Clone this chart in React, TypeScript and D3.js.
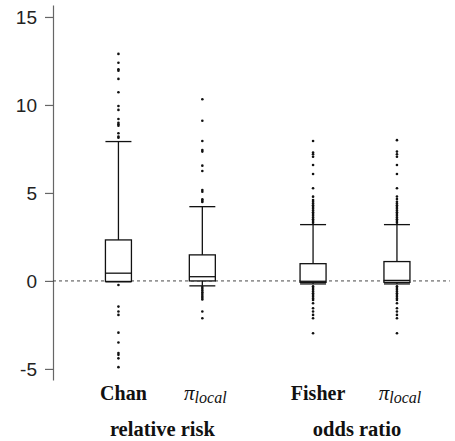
import React, { useEffect, useRef } from "react";
import * as d3 from "d3";

// box summaries, one per column
const categories = ["Chan", "pi", "Fisher", "pi"];
const positions = [1, 2, 3.32, 4.32];
const groups = ["relative risk", "odds ratio"];
const groupPositions = [1.5, 3.82];

const whiskerLow = [-0.05, -0.28, -0.17, -0.17];
const q1 = [-0.03, 0.0, -0.08, -0.08];
const medians = [0.44, 0.24, -0.02, 0.03];
const q3 = [2.33, 1.48, 0.98, 1.1];
const whiskerHigh = [7.92, 4.22, 3.2, 3.2];

const outliersChan = [
  12.9, 12.4, 12.03, 11.95, 11.48, 10.72, 9.94, 9.72, 9.2, 8.99, 8.9, 8.82, 8.39, 8.2, 8.14,
  -0.23, -1.46, -1.74, -1.93, -2.94, -3.5, -4.1, -4.2, -4.4, -4.9,
];
const outliersPiRR = [
  10.32, 9.1, 7.95, 7.44, 7.35, 6.55, 6.25, 5.17, 5.07, 4.64, 4.56, 4.49,
  -0.35, -0.45, -0.55, -0.65, -0.75, -0.85, -0.95, -1.05, -1.74, -2.12,
];
const outliersFisher = [
  7.95, 7.3, 7.2, 7.06, 6.59, 6.08, 5.27, 4.79, 4.6, 4.5, 4.4, 4.3, 4.2, 4.1, 4.0, 3.9, 3.8,
  3.7, 3.6, 3.5, 3.4, 3.3,
  -0.3, -0.4, -0.5, -0.6, -0.7, -0.8, -0.9, -1.0, -1.08, -1.27, -1.55, -1.74, -1.93, -2.12, -2.97,
];
const outliersPiOR = [
  8.0, 7.35, 7.2, 7.06, 6.59, 6.08, 5.27, 4.8, 4.65, 4.5, 4.4, 4.3, 4.2, 4.1, 4.0, 3.9, 3.8,
  3.7, 3.6, 3.5, 3.4, 3.3,
  -0.3, -0.4, -0.5, -0.6, -0.7, -0.8, -0.9, -1.0, -1.08, -1.27, -1.55, -1.74, -1.93, -2.12, -2.97,
];
const outliers = [outliersChan, outliersPiRR, outliersFisher, outliersPiOR];

const yTicks = [-5, 0, 5, 10, 15];

const W = 455;
const H = 441;
const serif = "Liberation Serif, Times New Roman, serif";

function BoxChart() {
  const svgRef = useRef<SVGSVGElement>(null);

  useEffect(() => {
    const svg = d3.select(svgRef.current);
    svg.selectAll("*").remove();

    const x = d3.scaleLinear().domain([0.22, 5.0]).range([53, 454]);
    const y = d3.scaleLinear().domain([-5.63, 15.68]).range([380, 5]);
    const boxW = 26;

    // y axis
    const yAxis = d3
      .axisLeft(y)
      .tickValues(yTicks)
      .tickSize(8)
      .tickSizeOuter(0)
      .tickPadding(8)
      .tickFormat((d) => String(d)); // plain hyphen for negatives

    const ax = svg
      .append("g")
      .attr("transform", "translate(" + x(0.22) + ",0)")
      .call(yAxis);
    ax.select(".domain").attr("stroke", "#666").attr("stroke-width", 1.2);
    ax.selectAll(".tick line").attr("stroke", "#666").attr("stroke-width", 1.2);
    ax.selectAll(".tick text")
      .attr("font-family", "Liberation Sans, Arial, sans-serif")
      .attr("font-size", 19)
      .attr("fill", "#222");

    // zero reference line
    svg
      .append("line")
      .attr("x1", x(0.22))
      .attr("x2", x(4.95))
      .attr("y1", y(0))
      .attr("y2", y(0))
      .attr("stroke", "#333")
      .attr("stroke-width", 0.9)
      .attr("stroke-dasharray", "3,3");

    const boxes = svg
      .selectAll("g.box")
      .data(categories)
      .join("g")
      .attr("class", "box");

    boxes.each(function (_, i) {
      const g = d3.select(this);
      const cx = x(positions[i]);

      // whisker stem
      g.append("line")
        .attr("x1", cx)
        .attr("x2", cx)
        .attr("y1", y(whiskerLow[i]))
        .attr("y2", y(whiskerHigh[i]))
        .attr("stroke", "#111")
        .attr("stroke-width", 1.3);

      // caps
      [whiskerLow[i], whiskerHigh[i]].forEach((v) => {
        g.append("line")
          .attr("x1", cx - boxW / 2)
          .attr("x2", cx + boxW / 2)
          .attr("y1", y(v))
          .attr("y2", y(v))
          .attr("stroke", "#111")
          .attr("stroke-width", 1.3);
      });

      // box
      g.append("rect")
        .attr("x", cx - boxW / 2)
        .attr("width", boxW)
        .attr("y", y(q3[i]))
        .attr("height", y(q1[i]) - y(q3[i]))
        .attr("fill", "white")
        .attr("stroke", "#111")
        .attr("stroke-width", 1.3);

      // median
      g.append("line")
        .attr("x1", cx - boxW / 2)
        .attr("x2", cx + boxW / 2)
        .attr("y1", y(medians[i]))
        .attr("y2", y(medians[i]))
        .attr("stroke", "#111")
        .attr("stroke-width", 1.3);

      // outliers
      g.selectAll("circle")
        .data(outliers[i])
        .join("circle")
        .attr("cx", cx)
        .attr("cy", (d) => y(d))
        .attr("r", 1.3)
        .attr("fill", "#111");
    });

    // category labels
    categories.forEach((c, i) => {
      const t = svg
        .append("text")
        .attr("y", 400)
        .attr("text-anchor", "middle")
        .attr("fill", "#111")
        .attr("font-family", serif);
      if (c === "pi") {
        t.attr("x", x(positions[i]) + 3).attr("font-style", "italic");
        t.append("tspan").attr("font-size", 21).text("π");
        t.append("tspan").attr("font-size", 16).attr("dy", 3).text("local");
      } else {
        t.attr("x", x(positions[i]) + 5)
          .attr("font-weight", "bold")
          .attr("font-size", 20)
          .text(c);
      }
    });

    // group labels
    svg
      .selectAll("text.group")
      .data(groups)
      .join("text")
      .attr("class", "group")
      .attr("x", (_, i) => x(groupPositions[i]) + 2)
      .attr("y", 436)
      .attr("text-anchor", "middle")
      .attr("font-family", serif)
      .attr("font-weight", "bold")
      .attr("font-size", 20.5)
      .attr("fill", "#111")
      .text((d) => d);
  }, []);

  return (
    <svg
      ref={svgRef}
      width={W}
      height={H}
      style={{ position: "absolute", left: 0, top: 0, background: "white" }}
    />
  );
}

export default function App() {
  return <BoxChart />;
}
